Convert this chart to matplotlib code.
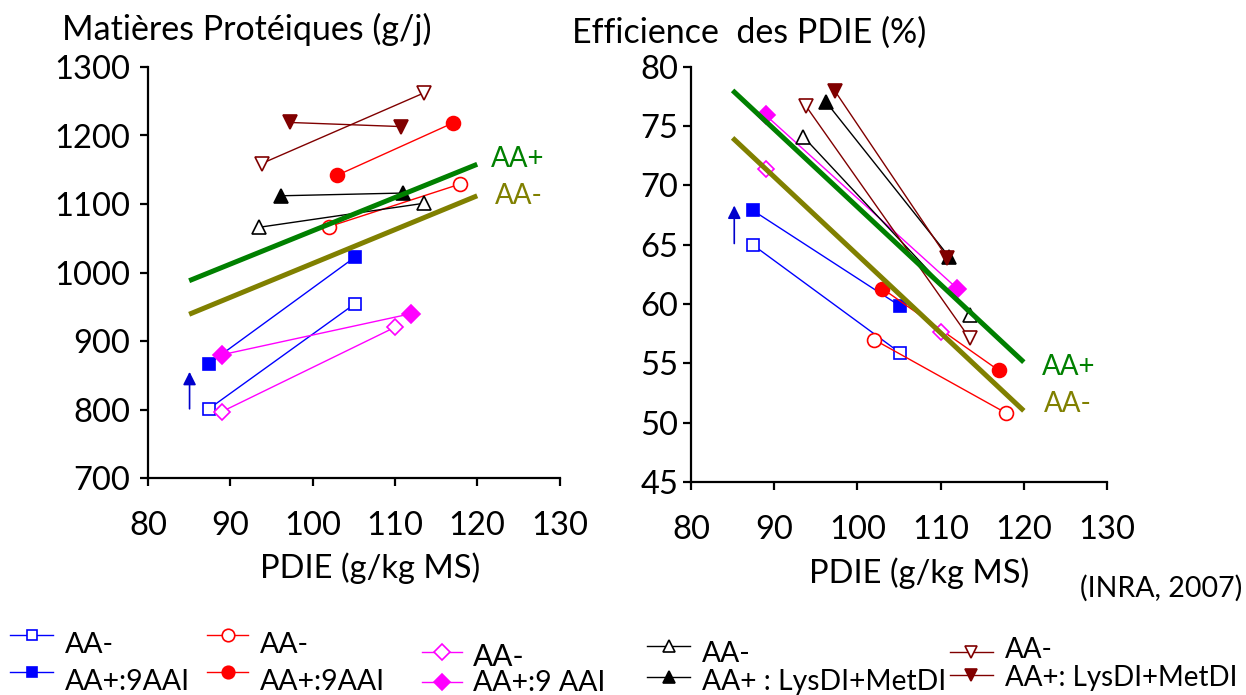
import matplotlib
matplotlib.use("Agg")
import matplotlib.pyplot as plt
from matplotlib.lines import Line2D

plt.rcParams["font.family"] = ["Lato", "DejaVu Sans"]

W, H = 1246, 695

# PDIE (g/kg MS) of each diet pair, low and high level
series_names = ["blue_o", "blue_f", "red_o", "red_f", "mag_o", "mag_f",
                "blk_o", "blk_f", "brn_o", "brn_f"]
pdie = {
    "blue_o": [87.4, 105.1], "blue_f": [87.4, 105.1],
    "red_o": [102.0, 117.9], "red_f": [103.0, 117.0],
    "mag_o": [89.0, 110.0], "mag_f": [89.0, 112.0],
    "blk_o": [93.5, 113.5], "blk_f": [96.2, 111.0],
    "brn_o": [93.8, 113.5], "brn_f": [97.3, 110.8],
}
# Matieres proteiques (g/j)
mp = {
    "blue_o": [801, 954], "blue_f": [867, 1022],
    "red_o": [1067, 1129], "red_f": [1142, 1218],
    "mag_o": [797, 920], "mag_f": [880, 940],
    "blk_o": [1066, 1101], "blk_f": [1112, 1116],
    "brn_o": [1159, 1262], "brn_f": [1219, 1213],
}
# Efficience des PDIE (%)
eff = {
    "blue_o": [65.0, 55.9], "blue_f": [67.9, 59.85],
    "red_o": [57.0, 50.8], "red_f": [61.3, 54.4],
    "mag_o": [71.35, 57.65], "mag_f": [75.9, 61.3],
    "blk_o": [74.1, 59.1], "blk_f": [77.05, 64.0],
    "brn_o": [76.7, 57.1], "brn_f": [77.95, 63.9],
}

# regression lines AA+ / AA-
reg_x = [85, 120]
mp_reg_plus = [988, 1158]
mp_reg_minus = [939, 1112]
eff_reg_plus = [78.0, 55.1]
eff_reg_minus = [74.0, 51.0]

# arrows (AA- -> AA+)
mp_arrow = [85.05, 801, 855]
eff_arrow = [85.2, 65.1, 68.3]

legend_labels = {
    "blue_o": "AA-", "blue_f": "AA+:9AAI",
    "red_o": "AA-", "red_f": "AA+:9AAI",
    "mag_o": "AA-", "mag_f": "AA+:9 AAI",
    "blk_o": "AA-", "blk_f": "AA+ : LysDI+MetDI",
    "brn_o": "AA-", "brn_f": "AA+: LysDI+MetDI",
}

styles = {
    "blue_o": dict(color="#0000FF", marker="s", ms=8.5, mfc="white"),
    "blue_f": dict(color="#0000FF", marker="s", ms=8.5, mfc="#0000FF"),
    "red_o": dict(color="#FF0000", marker="o", ms=10, mfc="white"),
    "red_f": dict(color="#FF0000", marker="o", ms=10, mfc="#FF0000"),
    "mag_o": dict(color="#FF00FF", marker="D", ms=8.5, mfc="white"),
    "mag_f": dict(color="#FF00FF", marker="D", ms=9.5, mfc="#FF00FF"),
    "blk_o": dict(color="black", marker="^", ms=10, mfc="white"),
    "blk_f": dict(color="black", marker="^", ms=10, mfc="black"),
    "brn_o": dict(color="#800000", marker="v", ms=10, mfc="white"),
    "brn_f": dict(color="#800000", marker="v", ms=10, mfc="#800000"),
}

fig = plt.figure(figsize=(W / 100, H / 100), dpi=100)


def make_axes(rect, xlim, ylim, yticks, ypad):
    ax = fig.add_axes(rect)
    ax.set_xlim(*xlim)
    ax.set_ylim(*ylim)
    ax.set_xticks(range(80, 131, 10))
    ax.set_yticks(yticks)
    for s in ["top", "right"]:
        ax.spines[s].set_visible(False)
    for s in ["left", "bottom"]:
        ax.spines[s].set_linewidth(1.6)
    ax.tick_params(axis="both", direction="out", length=6, width=1.6,
                   labelsize=23.5)
    ax.tick_params(axis="x", pad=18)
    ax.tick_params(axis="y", pad=ypad)
    return ax


def draw_panel(ax, values, reg_plus, reg_minus, arrow):
    for name in series_names:
        st = styles[name]
        ax.plot(pdie[name], values[name], color=st["color"], lw=1.0,
                marker=st["marker"], ms=st["ms"], mfc=st["mfc"],
                mec=st["color"], mew=1.2, clip_on=False, zorder=3)
    ax.plot(reg_x, reg_plus, color="#008000", lw=3.6, zorder=4,
            solid_capstyle="butt")
    ax.plot(reg_x, reg_minus, color="#808000", lw=3.6, zorder=4,
            solid_capstyle="butt")
    ax.annotate("", xy=(arrow[0], arrow[2]), xytext=(arrow[0], arrow[1]),
                arrowprops=dict(arrowstyle="-|>,head_length=0.6,head_width=0.3",
                                color="#0000CC", lw=1.2, mutation_scale=13,
                                shrinkA=0, shrinkB=0))


# left panel
ax1 = make_axes([148 / W, 1 - 478 / H, 411.5 / W, 411 / H], (80, 130),
                (700, 1300), range(700, 1301, 100), 7)
draw_panel(ax1, mp, mp_reg_plus, mp_reg_minus, mp_arrow)
ax1.text(121.7, 1154.5, "AA+", color="#008000", fontsize=20, va="baseline",
         clip_on=False)
ax1.text(122.1, 1099.7, "AA-", color="#808000", fontsize=20, va="baseline",
         clip_on=False)

# right panel
ax2 = make_axes([691 / W, 1 - 482 / H, 416 / W, 415.3 / H], (80, 130),
                (45, 80), range(45, 81, 5), 3)
draw_panel(ax2, eff, eff_reg_plus, eff_reg_minus, eff_arrow)
ax2.text(122.2, 54.0, "AA+", color="#008000", fontsize=20, va="baseline",
         clip_on=False)
ax2.text(122.4, 50.9, "AA-", color="#808000", fontsize=20, va="baseline",
         clip_on=False)

# titles and axis labels
fig.text(62 / W, 1 - 40 / H, "Matières Protéiques (g/j)", fontsize=24.5,
         va="baseline")
fig.text(572 / W, 1 - 42.5 / H, "Efficience  des PDIE (%)", fontsize=24.5,
         va="baseline")
fig.text(260 / W, 1 - 578 / H, "PDIE (g/kg MS)", fontsize=23.5, va="baseline")
fig.text(809 / W, 1 - 583 / H, "PDIE (g/kg MS)", fontsize=23.5, va="baseline")
fig.text(1080 / W, 1 - 597 / H, "(INRA, 2007)", fontsize=20.5, va="baseline")

# hand-placed legend: (series, line x0, line x1, line y, text x, text baseline, size)
legend_layout = [
    ("blue_o", 10, 53, 635, 65, 653, 20.5),
    ("blue_f", 10, 53, 672, 65, 690, 20.5),
    ("red_o", 207, 248, 635, 260, 653, 20.5),
    ("red_f", 207, 248, 672, 260, 690, 20.5),
    ("mag_o", 422, 462, 652, 473, 666, 21.5),
    ("mag_f", 422, 462, 682, 473, 691, 20.5),
    ("blk_o", 647, 690, 646, 702, 662, 20.3),
    ("blk_f", 647, 690, 677, 702, 690, 20.3),
    ("brn_o", 950, 993, 652, 1005, 658, 20),
    ("brn_f", 950, 993, 675, 1005, 686, 20),
]
for name, x0, x1, y, tx, ty, size in legend_layout:
    st = styles[name]
    fig.add_artist(Line2D([x0 / W, x1 / W], [1 - y / H, 1 - y / H],
                          color=st["color"], lw=1.0))
    fig.add_artist(Line2D([(x0 + x1) / 2 / W], [1 - y / H], ls="none",
                          marker=st["marker"], ms=st["ms"] * 0.9,
                          mfc=st["mfc"], mec=st["color"], mew=1.2))
    fig.text(tx / W, 1 - ty / H, legend_labels[name], fontsize=size,
             va="baseline")

fig.savefig("out.png", dpi=100)
